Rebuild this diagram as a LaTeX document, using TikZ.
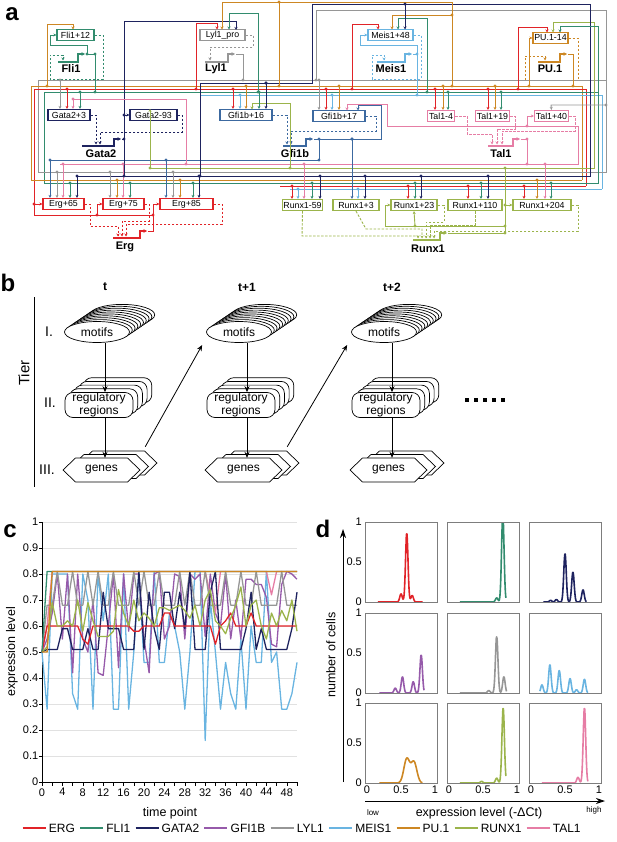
\documentclass[tikz,border=0pt]{standalone}
\usepackage{fontspec}
\setmainfont{Liberation Sans}
\usetikzlibrary{arrows.meta,positioning,shapes.geometric}

\definecolor{cERG}{RGB}{225,35,40}
\definecolor{cFLI}{RGB}{50,140,110}
\definecolor{cGATA}{RGB}{30,35,95}
\definecolor{cGFI}{RGB}{150,90,170}
\definecolor{cGFIa}{RGB}{60,105,160}
\definecolor{cLYL}{RGB}{150,150,150}
\definecolor{cMEIS}{RGB}{105,180,225}
\definecolor{cPU}{RGB}{205,135,35}
\definecolor{cRUNX}{RGB}{155,180,75}
\definecolor{cTAL}{RGB}{230,125,165}
\definecolor{cGrid}{RGB}{225,225,225}
\definecolor{cFrame}{RGB}{125,125,125}

\tikzstyle{enh} = [draw, line width=1.2pt, fill=white, inner sep=0pt, minimum height=11pt, font=\fontsize{8.8}{9}\selectfont]
\tikzstyle{genelab} = [font=\bfseries\fontsize{11}{12}\selectfont, inner sep=0pt]
\tikzstyle{wire} = [line width=0.9pt]
\tikzstyle{inp} = [wire, -{Stealth[length=3pt,width=3pt]}]
\tikzstyle{reg} = [wire, dash pattern=on 2.5pt off 1.5pt]
\tikzstyle{regin} = [reg, -{Stealth[length=3pt,width=3pt]}]
\tikzstyle{tss} = [line width=1.4pt, -{Stealth[length=3.5pt,width=3.5pt]}]
\tikzstyle{panel} = [font=\bfseries\fontsize{24}{24}\selectfont, inner sep=0pt]
\tikzstyle{flow} = [line width=0.8pt, -{Stealth[length=6pt,width=5pt]}]
\tikzstyle{axarrow} = [line width=0.9pt, -{Stealth[length=9pt,width=6pt]}]
\tikzstyle{motif} = [ellipse, draw, fill=white, line width=0.7pt, minimum width=65pt, minimum height=21pt, inner sep=0pt, font=\fontsize{12}{13}\selectfont]
\tikzstyle{regbox} = [draw, fill=white, line width=0.7pt, rounded corners=8pt, minimum width=68pt, minimum height=25pt, inner sep=0pt, align=center, font=\fontsize{12}{12.5}\selectfont]
\tikzstyle{genebox} = [minimum width=52pt, minimum height=24pt, inner sep=0pt, font=\fontsize{12}{13}\selectfont]
\tikzstyle{rowlab} = [font=\fontsize{14}{15}\selectfont, inner sep=0pt]
\tikzstyle{ticklab} = [font=\fontsize{11}{12}\selectfont, inner sep=1pt]
\tikzstyle{axlab} = [font=\fontsize{12.5}{14}\selectfont, inner sep=0pt]
\tikzstyle{keylab} = [font=\fontsize{12}{14}\selectfont, inner sep=0pt]
\tikzstyle{ser} = [line width=1.3pt, line join=round]
\tikzstyle{dcurve} = [line width=1.6pt, line join=round]
\tikzstyle{dbox} = [draw=cFrame, line width=0.8pt]

\begin{document}
\begin{tikzpicture}[x=1pt, y=-1pt, >=Stealth,
  declare function={gs(\u,\m)=exp(max(-15,-((\u-\m)^2)/0.0006));
                    gw(\u,\m)=exp(max(-15,-((\u-\m)^2)/0.0032));}]
\useasboundingbox (0,0) rectangle (617,842);

%%% panel a
\node[panel] (la) at (12,14) {a};

\node[enh, draw=cFLI, minimum width=37pt] (fli12) at (75.5,35) {Fli1+12};
\node[enh, draw=cLYL, minimum width=45pt] (lylpro) at (222.5,35) {Lyl1\_pro};
\node[enh, draw=cMEIS, minimum width=45pt] (meis48) at (390.5,35) {Meis1+48};
\node[enh, draw=cPU, minimum width=35pt] (pu14) at (550.5,38) {PU.1-14};
\node[enh, draw=cGATA, minimum width=42pt] (gata3) at (69,115) {Gata2+3};
\node[enh, draw=cGATA, minimum width=47pt] (gata93) at (153.5,115) {Gata2-93};
\node[enh, draw=cGFIa, minimum width=52pt] (gfi16) at (246,115) {Gfi1b+16};
\node[enh, draw=cGFIa, minimum width=52pt] (gfi17) at (339,116) {Gfi1b+17};
\node[enh, draw=cTAL, minimum width=27pt] (tal4) at (441,116) {Tal1-4};
\node[enh, draw=cTAL, minimum width=34pt] (tal19) at (492.5,116) {Tal1+19};
\node[enh, draw=cTAL, minimum width=34pt] (tal40) at (551.5,116) {Tal1+40};
\node[enh, draw=cERG, minimum width=41pt] (erg65) at (63.5,204) {Erg+65};
\node[enh, draw=cERG, minimum width=41pt] (erg75) at (123.5,204) {Erg+75};
\node[enh, draw=cERG, minimum width=53pt] (erg85) at (186.5,204) {Erg+85};
\node[enh, draw=cRUNX, minimum width=40pt] (runx59) at (302.5,205) {Runx1-59};
\node[enh, draw=cRUNX, minimum width=46pt] (runx3) at (356,205) {Runx1+3};
\node[enh, draw=cRUNX, minimum width=46pt] (runx23) at (414,205) {Runx1+23};
\node[enh, draw=cRUNX, minimum width=54pt] (runx110) at (475,205) {Runx1+110};
\node[enh, draw=cRUNX, minimum width=58pt] (runx204) at (542,205) {Runx1+204};

% genes
\node[genelab] (fli1) at (71,69) {Fli1};
\node[genelab] (lyl1) at (216,69) {Lyl1};
\node[genelab] (meis1) at (391,69) {Meis1};
\node[genelab] (pu1) at (550,69) {PU.1};
\node[genelab] (gata2) at (101,154) {Gata2};
\node[genelab] (gfi1b) at (295,154) {Gfi1b};
\node[genelab] (tal1) at (501,154) {Tal1};
\node[genelab] (erg) at (125,247) {Erg};
\node[genelab] (runx1) at (428,249) {Runx1};
\draw[tss,cFLI] (58,62) -- (78,62) -- (78,54) -- (85,54);
\draw[tss,cLYL] (205,62) -- (228,62) -- (228,54) -- (235,54);
\draw[tss,cMEIS] (377,62) -- (405,62) -- (405,54) -- (412,54);
\draw[tss,cPU] (538,62) -- (560,62) -- (560,54) -- (567,54);
\draw[tss,cGATA] (82,146) -- (114,146) -- (114,139) -- (121,139);
\draw[tss,cGFIa] (283,146) -- (306,146) -- (306,139) -- (313,139);
\draw[tss,cTAL] (488,146) -- (513,146) -- (513,139) -- (520,139);
\draw[tss,cERG] (113,238) -- (140,238) -- (140,231) -- (147,231);
\draw[tss,cRUNX] (413,240) -- (440,240) -- (440,233) -- (447,233);

% enhancer -> gene
\draw[regin,cFLI] (fli12.east) -- (103,35) -- (103,79) -- (50,79) -- (50,55) -- (63,55) -- (63,60.5);
\draw[regin,cLYL] (lylpro.east) -- (253,35) -- (253,47) -- (210,47) -- (210,60.5);
\draw[regin,cMEIS] (meis48.east) -- (421,35) -- (421,79) -- (372,79) -- (372,55) -- (384,55) -- (384,60.5);
\draw[regin,cPU] (pu14.east) -- (578,38) -- (578,80) -- (525,80) -- (525,56) -- (545,56) -- (545,60.5);
\draw[regin,cGATA] (gata3.east) -- (96,115) -- (96,144.5);
\draw[regin,cGATA] (gata93.east) -- (182,115) -- (182,132) -- (100,132) -- (100,144.5);
\draw[regin,cGFIa] (gfi16.east) -- (287,115) -- (287,144.5);
\draw[regin,cGFIa] (gfi17.east) -- (376,116) -- (376,131) -- (291,131) -- (291,144.5);
\draw[regin,cTAL] (tal4.east) -- (467,116) -- (467,134) -- (492,134) -- (492,144.5);
\draw[regin,cTAL] (tal19.east) -- (515,116) -- (515,129) -- (497,129) -- (497,144.5);
\draw[regin,cTAL] (tal40.east) -- (575,116) -- (575,131) -- (502,131) -- (502,144.5);
\draw[regin,cERG] (erg65.east) -- (90,204) -- (90,226) -- (118,226) -- (118,236.5);
\draw[regin,cERG] (erg75.east) -- (149,204) -- (149,221) -- (122,221) -- (122,236.5);
\draw[regin,cERG] (erg85.east) -- (222,204) -- (222,224) -- (126,224) -- (126,236.5);
\draw[regin,cRUNX] (runx59.south) -- (302,236) -- (418,236) -- (418,238.5);
\draw[regin,cRUNX] (runx3.south) -- (366,229) -- (422,229) -- (422,238.5);
\draw[regin,cRUNX] (runx23.east) -- (444,205) -- (444,222) -- (426,222) -- (426,238.5);
\draw[regin,cRUNX] (runx110.south) -- (475,225) -- (430,225) -- (430,238.5);
\draw[regin,cRUNX] (runx204.east) -- (578,205) -- (578,231) -- (434,231) -- (434,238.5);

% buses
\draw[wire,cLYL] (38,172) -- (38,80) -- (606,80);
\draw[wire,cPU] (31,180) -- (31,86) -- (582,86) -- (582,180);
\draw[wire,cERG] (34,215) -- (34,89) -- (586,89) -- (586,186);
\draw[wire,cFLI] (44,183) -- (44,92) -- (598,92);
\draw[wire,cMEIS] (200,95) -- (602,95) -- (602,189);
\draw[wire,cGFIa] (50,160) -- (319,160);
\draw[wire,cTAL] (60,164) -- (578,164) -- (578,126) -- (387,126) -- (387,104) -- (347,104);
\draw[wire,cRUNX] (150,168) -- (594,168) -- (594,22) -- (553,22);
\draw[wire,cLYL] (38,172) -- (606,172) -- (606,10) -- (316,10) -- (316,80);
\draw[wire,cGATA] (77,176) -- (590,176) -- (590,4) -- (312,4) -- (312,83) -- (200,83) -- (200,176);
\draw[wire,cPU] (31,180) -- (582,180);
\draw[wire,cFLI] (44,183) -- (598,183) -- (598,26) -- (560,26);
\draw[wire,cERG] (280,186) -- (586,186);
\draw[wire,cMEIS] (290,189) -- (602,189);

% gene outputs and loops
\draw[wire,cFLI] (86,54) -- (95,54) -- (95,92);
\draw[inp,cFLI] (87,54) -- (87,45) -- (50,45) -- (50,35) -- (fli12.west);
\draw[wire,cLYL] (236,54) -- (243,54) -- (243,80);
\draw[wire,cMEIS] (413,54) -- (417,54) -- (417,95);
\draw[inp,cMEIS] (417,54) -- (417,45) -- (360,45) -- (360,35) -- (meis48.west);
\draw[wire,cPU] (568,54) -- (573,54) -- (573,86);
\draw[inp,cPU] (529,86) -- (529,38) -- (pu14.west);
\draw[wire,cGATA] (122,139) -- (124,139);
\draw[wire,cGATA] (124,176) -- (124,21) -- (236,21);
\draw[inp,cGATA] (236,21) -- (236,30);
\draw[inp,cGATA] (124,115) -- (gata93.west);
\draw[wire,cGFIa] (314,139) -- (381,139) -- (381,105) -- (358,105);
\draw[inp,cGFIa] (358,105) -- (358,110.5);
\draw[wire,cGFIa] (319,139) -- (319,160);
\draw[wire,cTAL] (521,139) -- (527,139) -- (527,164);
\draw[inp,cTAL] (527,126) -- (527,116) -- (tal40.west);
\draw[inp,cTAL] (347,104) -- (347,110.5);
\draw[wire,cTAL] (73,99) -- (186,99) -- (186,164);
\draw[wire,cERG] (148,231) -- (153,231) -- (153,204);
\draw[inp,cERG] (153,204) -- (erg85.west);
\draw[wire,cERG] (34,215) -- (153,215);
\draw[inp,cERG] (97,215) -- (97,204) -- (erg75.west);
\draw[inp,cERG] (34,204) -- (erg65.west);
\draw[wire,cRUNX] (448,233) -- (505,233) -- (505,168);
\draw[inp,cRUNX] (505,205) -- (runx204.west);
\draw[inp,cRUNX] (505,226) -- (385,226) -- (385,205) -- (runx23.west);
\draw[inp,cRUNX] (415,226) -- (runx23.south);
\draw[inp,cRUNX] (150,168) -- (gata93.north -| 150,0);
\draw[inp,cRUNX] (290,168) -- (290,103) -- (252,103) -- (252,109.5);
\draw[inp,cLYL] (606,105) -- (551,105) -- (tal40.north);

% top-row inputs
\draw[inp,cERG] (196,89) -- (196,23) -- (217,23) -- (217,29.5);
\draw[inp,cERG] (352,89) -- (352,24) -- (378,24) -- (378,29.5);
\draw[inp,cERG] (518,89) -- (518,27) -- (547,27) -- (547,32.5);
\draw[inp,cPU] (47,86) -- (47,24) -- (73,24) -- (73,29.5);
\draw[wire,cPU] (279,86) -- (279,2);
\draw[wire,cPU] (222,2) -- (452,2) -- (452,86);
\draw[inp,cPU] (222,2) -- (222,29.5);
\draw[inp,cPU] (452,15) -- (392,15) -- (392,29.5);
\draw[inp,cFLI] (258,92) -- (258,13) -- (229,13) -- (229,29.5);
\draw[inp,cFLI] (427,92) -- (427,18) -- (398,18) -- (398,29.5);
\draw[inp,cFLI] (560,26) -- (560,32.5);
\draw[inp,cGATA] (405,4) -- (405,29.5);
\draw[inp,cRUNX] (553,22) -- (553,32.5);

% drops from the buses
\foreach \c/\x/\y/\b in {
  cLYL/60/80/gata3, cERG/67/89/gata3, cTAL/73/99/gata3, cFLI/80/92/gata3,
  cERG/233/89/gfi16, cMEIS/240/95/gfi16, cPU/246/86/gfi16, cFLI/259/92/gfi16, cGATA/266/83/gfi16,
  cLYL/319/80/gfi17, cERG/326/89/gfi17, cMEIS/332/95/gfi17, cPU/339/86/gfi17,
  cERG/435/89/tal4, cPU/443/86/tal4, cFLI/448/92/tal4,
  cERG/488/89/tal19, cPU/495/86/tal19, cFLI/501/92/tal19,
  cGFIa/50/160/erg65, cLYL/57/172/erg65, cTAL/63/164/erg65, cFLI/70/183/erg65, cGATA/77/176/erg65,
  cLYL/110/172/erg75, cPU/117/180/erg75, cTAL/123/164/erg75, cFLI/130/183/erg75,
  cGFIa/166/160/erg85, cLYL/173/172/erg85, cPU/180/180/erg85, cFLI/193/183/erg85, cGATA/199/176/erg85,
  cERG/292/186/runx59, cMEIS/298/189/runx59, cTAL/304/164/runx59, cFLI/312/183/runx59, cGATA/320/176/runx59,
  cGFIa/352/139/runx3, cMEIS/358/189/runx3, cGATA/365/176/runx3,
  cERG/408/186/runx23, cFLI/415/183/runx23, cGATA/421/176/runx23,
  cERG/468/186/runx110, cFLI/481/183/runx110, cGATA/488/176/runx110,
  cERG/524/186/runx204, cPU/537/180/runx204, cTAL/545/164/runx204, cFLI/551/183/runx204} {
  \fill[\c] (\x,\y) circle (1.7pt);
  \draw[inp,\c] (\x,\y) -- (\x,\y |- \b.north);
}
% junctions
\foreach \c/\x/\y in {cFLI/87/54, cFLI/95/54, cFLI/95/92, cLYL/243/80, cMEIS/417/54, cMEIS/417/95,
  cPU/573/86, cPU/529/86, cPU/279/86, cPU/279/2, cPU/452/86, cPU/452/15, cPU/47/86,
  cGATA/124/139, cGATA/124/115, cGATA/124/176, cGATA/266/83, cGATA/405/4, cGATA/200/176,
  cGFIa/319/139, cGFIa/319/160, cGFIa/352/139, cTAL/527/139, cTAL/527/126, cTAL/527/164,
  cTAL/186/164, cERG/153/215, cERG/97/215, cERG/34/204, cERG/196/89, cERG/352/89, cERG/518/89,
  cRUNX/505/233, cRUNX/505/205, cRUNX/505/226, cRUNX/415/226, cRUNX/505/168, cRUNX/150/168,
  cRUNX/290/168, cFLI/258/92, cFLI/427/92, cLYL/316/80, cLYL/606/105} {
  \fill[\c] (\x,\y) circle (1.7pt);
}

%%% panel b
\node[panel] (lb) at (8,283) {b};
\draw[line width=0.8pt] (34,297) -- (34,487);
\node[rotate=90, font=\fontsize{15}{16}\selectfont, inner sep=0pt] (tier) at (24,373) {Tier};
\node[rowlab] (tI) at (49,332) {I.};
\node[rowlab] (tII) at (50,403) {II.};
\node[rowlab] (tIII) at (47,470) {III.};
\foreach \c/\cx/\hd in {1/105/t, 2/247/t+1, 3/392/t+2} {
  \node[font=\bfseries\fontsize{12}{13}\selectfont, inner sep=0pt] (h\c) at (\cx,287) {\hd};
  \foreach \k in {9,...,1}
    \draw[line width=0.7pt, fill=white] (\cx-8+2.8*\k, 332-1.9*\k) ellipse [x radius=32.5, y radius=10.5];
  \node[motif] (m\c) at (\cx-8,332) {motifs};
  \foreach \k in {4,...,1}
    \draw[line width=0.7pt, fill=white, rounded corners=8pt] (\cx-40+4.7*\k, 392.5-3.7*\k) rectangle ++(68,25);
  \node[regbox] (r\c) at (\cx-6,405) {regulatory\\regions};
  \foreach \k in {2,1,0}
    \draw[line width=0.7pt, fill=white] (\cx-42+8.5*\k, 470-3.5*\k) -- ++(12.5,-12) -- ++(52,0) -- ++(12.5,12) -- ++(-12.5,12) -- ++(-52,0) -- cycle;
  \node[genebox] (g\c) at (\cx-3.5,470) {genes};
  \draw[flow] ([xshift=8pt]m\c.south) -- ([xshift=6pt]r\c.north);
  \draw[flow] ([xshift=6pt]r\c.south) -- ([xshift=3.5pt]g\c.north);
}
\draw[flow] ([xshift=17.5pt,yshift=11pt]g1.north east) -- ([xshift=-4pt,yshift=-13pt]m2.west);
\draw[flow] ([xshift=17.5pt,yshift=11pt]g2.north east) -- ([xshift=-4pt,yshift=-13pt]m3.west);
\foreach \i in {0,...,4}
  \fill (465+9*\i,398) rectangle ++(4,4);

%%% panel c
\node[panel] (lc) at (10,531) {c};
\node[rotate=90, axlab] (cyl) at (12,652) {expression level};
\node[axlab] (cxl) at (170,813) {time point};
\begin{scope}[shift={(42,782)}, x=5.1pt, y=260pt]
  \foreach \v [count=\i] in {0.1,0.2,0.3,0.4,0.5,0.6,0.7,0.8,0.9,1}
    \draw[cGrid, line width=0.6pt] (0,\v) -- (50,\v);
  \foreach \v [count=\i] in {0,0.1,0.2,0.3,0.4,0.5,0.6,0.7,0.8,0.9,1} {
    \draw[line width=0.6pt] (-0.5,\v) -- (0,\v);
    \node[ticklab, anchor=east] (cy\i) at (-0.5,\v) {\v};
  }
  \foreach \t in {0,2,...,50}
    \draw[line width=0.6pt] (\t,0) -- (\t,-0.015);
  \foreach \t in {0,4,...,48}
    \node[ticklab, anchor=north] (cx\t) at (\t,-0.02) {\t};
  \draw[line width=0.9pt] (0,1) -- (0,0) -- (50,0);
  % MEIS1
  \draw[ser,cMEIS] (0,0.5) \foreach \v [count=\t] in {
    0.28,0.8,0.8,0.8,0.8,0.34,0.28,0.8,0.7,0.28,
    0.8,0.62,0.8,0.28,0.28,0.8,0.28,0.5,0.81,0.46,
    0.46,0.81,0.46,0.46,0.65,0.6,0.5,0.28,0.5,0.81,
    0.81,0.16,0.7,0.5,0.28,0.46,0.34,0.28,0.55,0.28,
    0.6,0.46,0.46,0.81,0.46,0.5,0.28,0.28,0.34,0.46} {-- (\t,\v)};
  % GFI1B
  \draw[ser,cGFI] (0,0.5) \foreach \v [count=\t] in {
    0.55,0.65,0.8,0.55,0.8,0.42,0.8,0.55,0.5,0.7,
    0.42,0.41,0.6,0.8,0.44,0.8,0.58,0.8,0.8,0.55,
    0.42,0.8,0.81,0.55,0.6,0.8,0.79,0.55,0.8,0.78,
    0.8,0.56,0.8,0.65,0.6,0.8,0.55,0.7,0.55,0.78,
    0.78,0.76,0.76,0.71,0.53,0.52,0.76,0.81,0.8,0.78} {-- (\t,\v)};
  % TAL1
  \draw[ser,cTAL] (0,0.5) \foreach \v [count=\t] in {
    0.6,0.81,0.81,0.81,0.81,0.81,0.81,0.81,0.81,0.81,
    0.81,0.81,0.81,0.81,0.81,0.81,0.81,0.81,0.81,0.81,
    0.81,0.81,0.81,0.81,0.81,0.81,0.81,0.81,0.81,0.81,
    0.81,0.81,0.72,0.65,0.81,0.81,0.81,0.81,0.81,0.81,
    0.81,0.81,0.81,0.81,0.72,0.81,0.81,0.81,0.81,0.81} {-- (\t,\v)};
  % LYL1
  \draw[ser,cLYL] (0,0.5) \foreach \v [count=\t] in {
    0.68,0.68,0.81,0.68,0.68,0.81,0.68,0.68,0.81,0.68,
    0.81,0.68,0.68,0.81,0.68,0.68,0.68,0.81,0.68,0.81,
    0.68,0.68,0.81,0.68,0.68,0.68,0.81,0.68,0.81,0.68,
    0.68,0.81,0.68,0.68,0.68,0.81,0.68,0.68,0.81,0.68,
    0.68,0.81,0.68,0.68,0.68,0.68,0.81,0.68,0.68,0.68} {-- (\t,\v)};
  % GATA2
  \draw[ser,cGATA] (0,0.5) \foreach \v [count=\t] in {
    0.51,0.51,0.51,0.59,0.59,0.51,0.51,0.51,0.59,0.51,
    0.51,0.73,0.59,0.59,0.59,0.51,0.51,0.51,0.81,0.51,
    0.73,0.59,0.51,0.73,0.73,0.59,0.73,0.59,0.81,0.51,
    0.51,0.51,0.73,0.81,0.51,0.51,0.51,0.51,0.51,0.59,
    0.73,0.51,0.59,0.51,0.51,0.51,0.51,0.51,0.59,0.73} {-- (\t,\v)};
  % ERG
  \draw[ser,cERG] (0,0.5) \foreach \v [count=\t] in {
    0.6,0.6,0.6,0.6,0.6,0.6,0.6,0.55,0.53,0.6,
    0.6,0.6,0.6,0.6,0.6,0.6,0.6,0.58,0.58,0.6,
    0.6,0.6,0.6,0.65,0.65,0.6,0.6,0.6,0.6,0.6,
    0.6,0.6,0.6,0.53,0.6,0.62,0.65,0.6,0.6,0.6,
    0.65,0.6,0.6,0.6,0.6,0.6,0.6,0.6,0.6,0.6} {-- (\t,\v)};
  % RUNX1
  \draw[ser,cRUNX] (0,0.5) \foreach \v [count=\t] in {
    0.52,0.69,0.6,0.6,0.62,0.6,0.7,0.58,0.69,0.62,
    0.56,0.56,0.56,0.58,0.74,0.65,0.6,0.7,0.62,0.65,
    0.63,0.6,0.67,0.67,0.66,0.67,0.68,0.66,0.63,0.68,
    0.6,0.7,0.74,0.62,0.6,0.57,0.63,0.68,0.75,0.6,
    0.68,0.7,0.6,0.55,0.65,0.6,0.66,0.62,0.7,0.58} {-- (\t,\v)};
  % FLI1 and PU.1
  \draw[ser,cFLI] (0,0.5) -- (1,0.81) -- (50,0.81);
  \draw[ser,cPU] (0,0.5) -- (1,0.5) -- (2,0.81) -- (50,0.81);
\end{scope}

%%% panel d
\node[panel] (ld) at (323,529) {d};
\draw[axarrow] (343,782) -- (343,529);
\node[rotate=90, axlab] (dyl) at (331,655) {number of cells};
\draw[axarrow] (365,801) -- (605,801);
\node[font=\fontsize{8}{9}\selectfont, inner sep=0pt] (dlow) at (373,813) {low};
\node[axlab] (dxl) at (479,813) {expression level (-ΔCt)};
\node[font=\fontsize{8}{9}\selectfont, inner sep=0pt] (dhigh) at (594,810) {high};
\foreach \r/\y in {1/602,2/693,3/783} {
  \node[ticklab, anchor=east] (dz\r) at (363,\y) {0};
  \node[ticklab, anchor=east] (dh\r) at (363,\y-40) {0.5};
  \node[ticklab, anchor=east] (do\r) at (363,\y-80) {1};
}
\foreach \c/\x in {1/365,2/447,3/529} {
  \node[ticklab, anchor=north] (dx\c a) at (\x+2,785) {0};
  \node[ticklab, anchor=north] (dx\c b) at (\x+36,785) {0.5};
  \node[ticklab, anchor=north] (dx\c c) at (\x+70,785) {1};
}
% ERG
\begin{scope}[shift={(365,602)}, x=72pt, y=80pt]
  \clip (0,-0.05) rectangle (1,1);
  \draw[dcurve,cERG] plot[domain=0.18:0.8, samples=201] (\x, {0.85*gs(\x,0.58)+0.1*gs(\x,0.5)+0.08*gs(\x,0.655)});
\end{scope}
% FLI1
\begin{scope}[shift={(447,602)}, x=72pt, y=80pt]
  \clip (0,-0.05) rectangle (1,1);
  \draw[dcurve,cFLI] plot[domain=0.18:0.82, samples=201] (\x, {1.08*gs(\x,0.775)+0.05*gs(\x,0.69)});
\end{scope}
% GATA2
\begin{scope}[shift={(529,602)}, x=72pt, y=80pt]
  \clip (0,-0.05) rectangle (1,1);
  \draw[dcurve,cGATA] plot[domain=0.2:0.8, samples=201] (\x, {0.02*gs(\x,0.3)+0.03*gs(\x,0.38)+0.6*gs(\x,0.5)+0.37*gs(\x,0.61)+0.15*gs(\x,0.75)});
\end{scope}
% GFI1B
\begin{scope}[shift={(365,693)}, x=72pt, y=80pt]
  \clip (0,-0.05) rectangle (1,1);
  \draw[dcurve,cGFI] plot[domain=0.2:0.82, samples=201] (\x, {0.06*gs(\x,0.42)+0.2*gs(\x,0.52)+0.14*gs(\x,0.67)+0.47*gs(\x,0.78)});
\end{scope}
% LYL1
\begin{scope}[shift={(447,693)}, x=72pt, y=80pt]
  \clip (0,-0.05) rectangle (1,1);
  \draw[dcurve,cLYL] plot[domain=0.18:0.83, samples=201] (\x, {0.03*gs(\x,0.58)+0.7*gs(\x,0.69)+0.2*gs(\x,0.79)});
\end{scope}
% MEIS1
\begin{scope}[shift={(529,693)}, x=72pt, y=80pt]
  \clip (0,-0.05) rectangle (1,1);
  \draw[dcurve,cMEIS] plot[domain=0.15:0.82, samples=201] (\x, {0.1*gs(\x,0.18)+0.35*gs(\x,0.29)+0.28*gs(\x,0.42)+0.18*gs(\x,0.57)+0.04*gs(\x,0.66)+0.17*gs(\x,0.77)});
\end{scope}
% PU.1
\begin{scope}[shift={(365,783)}, x=72pt, y=80pt]
  \clip (0,-0.05) rectangle (1,1);
  \draw[dcurve,cPU] plot[domain=0.2:0.8, samples=201] (\x, {0.3*gw(\x,0.58)+0.26*gw(\x,0.68)});
\end{scope}
% RUNX1
\begin{scope}[shift={(447,783)}, x=72pt, y=80pt]
  \clip (0,-0.05) rectangle (1,1);
  \draw[dcurve,cRUNX] plot[domain=0.18:0.82, samples=201] (\x, {0.02*gs(\x,0.48)+0.06*gs(\x,0.69)+0.93*gs(\x,0.78)});
\end{scope}
% TAL1
\begin{scope}[shift={(529,783)}, x=72pt, y=80pt]
  \clip (0,-0.05) rectangle (1,1);
  \draw[dcurve,cTAL] plot[domain=0.18:0.82, samples=201] (\x, {0.07*gs(\x,0.68)+0.93*gs(\x,0.77)});
\end{scope}
\foreach \x in {365,447,529}
  \foreach \y in {522,613,703}
    \draw[dbox] (\x,\y) rectangle ++(72,80);

%%% legend
\node[inner sep=0pt] (k0) at (17,828) {};
\foreach \c/\n [count=\i, remember=\i as \j (initially 0)] in {cERG/ERG,cFLI/FLI1,cGATA/GATA2,cGFI/GFI1B,cLYL/LYL1,cMEIS/MEIS1,cPU/PU.1,cRUNX/RUNX1,cTAL/TAL1} {
  \draw[\c, line width=2pt] ([xshift=5pt]k\j.east) -- ++(23,0) coordinate (ke\i);
  \node[keylab, anchor=west] (k\i) at ([xshift=3pt]ke\i) {\n};
}
\end{tikzpicture}
\end{document}
